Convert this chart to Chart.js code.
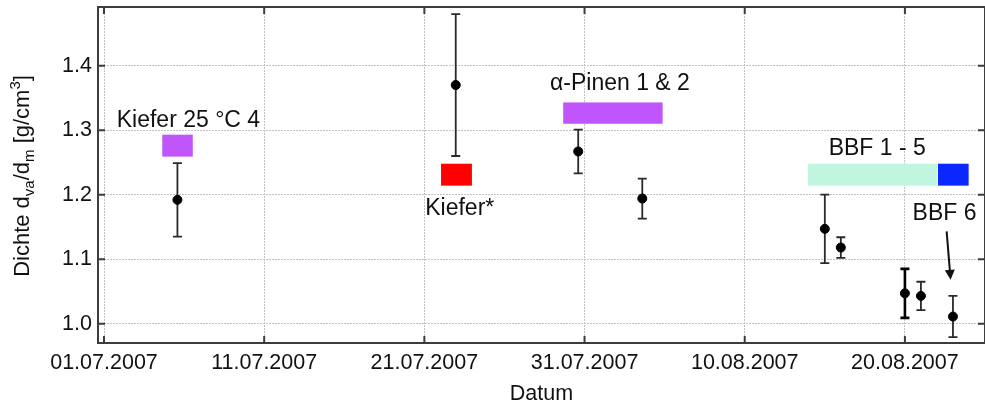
<!DOCTYPE html>
<html>
<head>
<meta charset="utf-8">
<title>Dichte</title>
<script src="https://cdn.jsdelivr.net/npm/chart.js@4.4.0/dist/chart.umd.min.js"></script>
<style>
html, body { margin: 0; padding: 0; background: #fff; }
canvas { display: block; }
</style>
</head>
<body>
<canvas id="dichte" width="985" height="409"></canvas>
<script>
// Messpunkte: Datum, Dichte und Fehler
var pointDates = ['2007-07-05T14:00', '2007-07-22T23:00', '2007-07-30T14:30', '2007-08-03T14:30',
                  '2007-08-15T00:00', '2007-08-16T00:00', '2007-08-20T00:00', '2007-08-21T00:00', '2007-08-23T00:00'];
var density    = [1.192, 1.370, 1.267, 1.194, 1.147, 1.118, 1.047, 1.043, 1.011];
var densityErr = [0.057, 0.110, 0.034, 0.031, 0.053, 0.016, 0.038, 0.022, 0.032];

// Messkampagnen (Balken)
var campaignNames = ['Kiefer 25 °C 4', 'Kiefer*', 'α-Pinen 1 & 2', 'BBF 1 - 5', 'BBF 6'];
var campaignStart = ['2007-07-04T15:20', '2007-07-22T01:00', '2007-07-29T16:00', '2007-08-13T22:50', '2007-08-22T01:30'];
var campaignEnd   = ['2007-07-06T13:00', '2007-07-23T23:15', '2007-08-04T21:00', '2007-08-22T00:00', '2007-08-23T23:30'];
var campaignLow   = [1.259, 1.214, 1.310, 1.214, 1.214];
var campaignHigh  = [1.293, 1.248, 1.343, 1.248, 1.248];

var tickDates = ['2007-07-01T00:00', '2007-07-11T00:00', '2007-07-21T00:00',
                 '2007-07-31T00:00', '2007-08-10T00:00', '2007-08-20T00:00'];
var yTicks = [1.0, 1.1, 1.2, 1.3, 1.4];

var campaignColors = ['#bf55fb', '#ff0000', '#bf55fb', '#c0f5e0', '#0a28ff'];
var errWidths = [1.8, 1.8, 1.8, 1.8, 1.8, 1.8, 2.6, 1.8, 1.8];

// Beschriftungen (Mitte des Textes in Datenkoordinaten)
var notes = [
  { text: campaignNames[0], x: '2007-07-06T06:30', y: 1.314 },
  { text: campaignNames[1], x: '2007-07-23T05:00', y: 1.178 },
  { text: campaignNames[2], x: '2007-08-02T05:00', y: 1.372 },
  { text: campaignNames[3], x: '2007-08-18T06:30', y: 1.272 },
  { text: campaignNames[4], x: '2007-08-22T11:20', y: 1.170 }
];
var arrow = { x0: '2007-08-22T14:30', y0: 1.143, x1: '2007-08-22T20:30', y1: 1.068 };

var FONT = '"Liberation Sans", Arial, Helvetica, sans-serif';

function toMs(s) { return Date.parse(s + ':00Z'); }

function fmtDate(v) {
  var d = new Date(v);
  var dd = ('0' + d.getUTCDate()).slice(-2);
  var mm = ('0' + (d.getUTCMonth() + 1)).slice(-2);
  return dd + '.' + mm + '.' + d.getUTCFullYear();
}

var dichtePlugin = {
  id: 'dichte',
  beforeDatasetsDraw: function(chart) {
    var ctx = chart.ctx, xs = chart.scales.x, ys = chart.scales.y;
    ctx.save();
    for (var i = 0; i < campaignNames.length; i++) {
      var x0 = xs.getPixelForValue(toMs(campaignStart[i]));
      var x1 = xs.getPixelForValue(toMs(campaignEnd[i]));
      var y0 = ys.getPixelForValue(campaignHigh[i]);
      var y1 = ys.getPixelForValue(campaignLow[i]);
      ctx.fillStyle = campaignColors[i];
      ctx.fillRect(x0, y0, x1 - x0, y1 - y0);
    }
    // Fehlerbalken
    for (var j = 0; j < density.length; j++) {
      var x = xs.getPixelForValue(toMs(pointDates[j]));
      var yt = ys.getPixelForValue(density[j] + densityErr[j]);
      var yb = ys.getPixelForValue(density[j] - densityErr[j]);
      ctx.strokeStyle = errWidths[j] > 2 ? '#000' : '#2a2a2a';
      ctx.lineWidth = errWidths[j];
      ctx.beginPath();
      ctx.moveTo(x, yt); ctx.lineTo(x, yb);
      ctx.moveTo(x - 4.5, yt); ctx.lineTo(x + 4.5, yt);
      ctx.moveTo(x - 4.5, yb); ctx.lineTo(x + 4.5, yb);
      ctx.stroke();
    }
    ctx.restore();
  },
  afterDraw: function(chart) {
    var ctx = chart.ctx, xs = chart.scales.x, ys = chart.scales.y, a = chart.chartArea;
    ctx.save();
    // Rahmen mit nach innen zeigenden Ticks
    ctx.strokeStyle = '#3c3c3c';
    ctx.lineWidth = 2;
    ctx.strokeRect(a.left, a.top, a.right - a.left, a.bottom - a.top);
    ctx.beginPath();
    tickDates.forEach(function(t) {
      var x = xs.getPixelForValue(toMs(t));
      ctx.moveTo(x, a.bottom); ctx.lineTo(x, a.bottom - 7);
      ctx.moveTo(x, a.top); ctx.lineTo(x, a.top + 7);
    });
    yTicks.forEach(function(v) {
      var y = ys.getPixelForValue(v);
      ctx.moveTo(a.left, y); ctx.lineTo(a.left + 7, y);
      ctx.moveTo(a.right, y); ctx.lineTo(a.right - 7, y);
    });
    ctx.stroke();

    // Beschriftungen
    ctx.fillStyle = '#111';
    ctx.font = '23px ' + FONT;
    ctx.textAlign = 'center';
    ctx.textBaseline = 'middle';
    notes.forEach(function(n) {
      ctx.fillText(n.text, xs.getPixelForValue(toMs(n.x)), ys.getPixelForValue(n.y));
    });

    // Pfeil auf BBF 6
    var ax0 = xs.getPixelForValue(toMs(arrow.x0)), ay0 = ys.getPixelForValue(arrow.y0);
    var ax1 = xs.getPixelForValue(toMs(arrow.x1)), ay1 = ys.getPixelForValue(arrow.y1);
    var ang = Math.atan2(ay1 - ay0, ax1 - ax0);
    ctx.strokeStyle = '#111';
    ctx.lineWidth = 2;
    ctx.beginPath();
    ctx.moveTo(ax0, ay0);
    ctx.lineTo(ax1 - 8 * Math.cos(ang), ay1 - 8 * Math.sin(ang));
    ctx.stroke();
    ctx.beginPath();
    ctx.moveTo(ax1, ay1);
    ctx.lineTo(ax1 - 10 * Math.cos(ang) + 5 * Math.sin(ang), ay1 - 10 * Math.sin(ang) - 5 * Math.cos(ang));
    ctx.lineTo(ax1 - 10 * Math.cos(ang) - 5 * Math.sin(ang), ay1 - 10 * Math.sin(ang) + 5 * Math.cos(ang));
    ctx.closePath();
    ctx.fill();

    // y-Achsentitel mit Indizes
    var parts = [
      { t: 'Dichte d', s: 0 }, { t: 'va', s: 1 }, { t: '/d', s: 0 }, { t: 'm', s: 1 },
      { t: ' [g/cm', s: 0 }, { t: '3', s: -1 }, { t: ']', s: 0 }
    ];
    var big = '22px ' + FONT, small = '15px ' + FONT;
    var total = 0;
    parts.forEach(function(p) {
      ctx.font = p.s ? small : big;
      p.w = ctx.measureText(p.t).width;
      total += p.w;
    });
    ctx.translate(28.5, 176);
    ctx.rotate(-Math.PI / 2);
    ctx.textAlign = 'left';
    ctx.textBaseline = 'alphabetic';
    var px = -total / 2;
    parts.forEach(function(p) {
      ctx.font = p.s ? small : big;
      var dy = p.s === 1 ? 5 : (p.s === -1 ? -9 : 0);
      ctx.fillText(p.t, px, dy);
      px += p.w;
    });
    ctx.restore();
  }
};

new Chart(document.getElementById('dichte'), {
  type: 'scatter',
  data: {
    datasets: [{
      label: 'Dichte',
      data: pointDates.map(function(d, i) { return { x: toMs(d), y: density[i] }; }),
      backgroundColor: '#000',
      borderColor: '#000',
      pointRadius: 4.5,
      pointHoverRadius: 4.5
    }]
  },
  options: {
    responsive: false,
    animation: false,
    devicePixelRatio: 1,
    layout: { autoPadding: false, padding: { top: 7, right: 0, left: 0, bottom: 0 } },
    plugins: {
      legend: { display: false },
      tooltip: { enabled: false }
    },
    scales: {
      x: {
        type: 'linear',
        position: 'bottom',
        min: toMs('2007-06-30T15:00'),
        max: toMs('2007-08-25T00:00'),
        afterBuildTicks: function(scale) {
          scale.ticks = tickDates.map(function(t) { return { value: toMs(t) }; });
        },
        afterFit: function(scale) {
          scale.height = 66;
          scale.paddingLeft = 0;
          scale.paddingRight = 0;
        },
        grid: { color: '#c2c2c2', lineWidth: 1, drawTicks: false },
        border: { display: false, dash: [2, 1] },
        ticks: {
          padding: 7,
          maxRotation: 0,
          color: '#111',
          font: { family: FONT, size: 21.5 },
          callback: function(v) { return fmtDate(v); }
        },
        title: {
          display: true,
          text: 'Datum',
          color: '#111',
          font: { family: FONT, size: 21.5 },
          padding: { top: 0, bottom: 2 }
        }
      },
      y: {
        min: 0.970,
        max: 1.491,
        afterBuildTicks: function(scale) {
          scale.ticks = yTicks.map(function(v) { return { value: v }; });
        },
        afterFit: function(scale) {
          scale.width = 98;
          scale.paddingTop = 0;
          scale.paddingBottom = 0;
        },
        grid: { color: '#c2c2c2', lineWidth: 1, drawTicks: false },
        border: { display: false, dash: [2, 1] },
        ticks: {
          padding: 6,
          color: '#111',
          font: { family: FONT, size: 21.5 },
          callback: function(v) { return v.toFixed(1); }
        }
      }
    }
  },
  plugins: [dichtePlugin]
});
</script>
</body>
</html>
